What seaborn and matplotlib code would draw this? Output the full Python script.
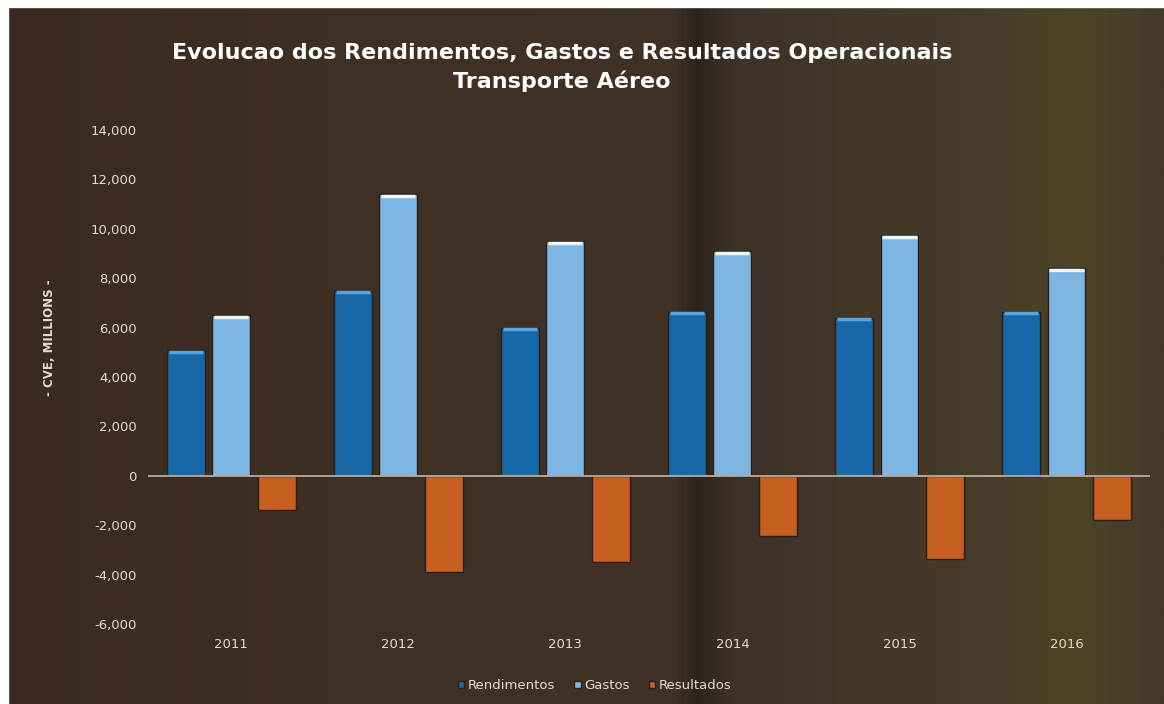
import numpy as np
import pandas as pd
import matplotlib
matplotlib.use("Agg")
import matplotlib.pyplot as plt
from matplotlib.colors import LinearSegmentedColormap
from matplotlib.ticker import FuncFormatter
import seaborn as sns

# Data (CVE, millions)
years = ["2011", "2012", "2013", "2014", "2015", "2016"]
rendimentos = [5100, 7500, 6000, 6650, 6400, 6650]
gastos = [6500, 11400, 9500, 9100, 9750, 8400]
resultados = [-1400, -3900, -3500, -2450, -3350, -1800]
series_names = ["Rendimentos", "Gastos", "Resultados"]

df = pd.DataFrame({
    "Ano": years * 3,
    "Serie": [series_names[0]] * 6 + [series_names[1]] * 6 + [series_names[2]] * 6,
    "Valor": rendimentos + gastos + resultados,
})

palette = {"Rendimentos": "#1768a8", "Gastos": "#7db6e2", "Resultados": "#c65f1f"}
highlight = {"Rendimentos": "#5aa6dc", "Gastos": "#eef6fc", "Resultados": "#d9874e"}
text_col = "#e6dccd"

sns.set_theme(style="dark")
plt.rcParams["font.family"] = ["DejaVu Sans"]

fig = plt.figure(figsize=(11.64, 7.04), dpi=100)
fig.patch.set_facecolor("#3e3025")

# brown backdrop with a darker band and an olive cast to the right
bg = fig.add_axes([0, 0, 1, 1], zorder=-10)
bg_cmap = LinearSegmentedColormap.from_list(
    "wood",
    [(0.0, "#3a2a20"), (0.35, "#3f3025"), (0.58, "#3f3227"), (0.6, "#2c241c"),
     (0.63, "#3e3228"), (0.85, "#473c2a"), (0.93, "#4d4426"), (1.0, "#45392a")])
grad = np.tile(np.linspace(0, 1, 600), (40, 1))
bg.imshow(grad, aspect="auto", cmap=bg_cmap, extent=[0, 1, 0, 1])
bg.set_xlim(0, 1)
bg.set_ylim(0, 1)
bg.axis("off")
# paper edges of the scan
fig.patches.append(plt.Rectangle((0, 0), 0.007, 1, transform=fig.transFigure,
                                 color="white", zorder=5))
fig.patches.append(plt.Rectangle((0, 0.99), 1, 0.01, transform=fig.transFigure,
                                 color="white", zorder=5))

ax = fig.add_axes([0.127, 0.1136, 0.861, 0.7017])
ax.set_facecolor("none")

sns.barplot(data=df, x="Ano", y="Valor", hue="Serie", palette=palette,
            width=0.82, gap=0.17, edgecolor="#2a1f17", linewidth=1,
            saturation=1, ax=ax, legend=True)

# glossy rim on the top of each positive bar
for cont, name in zip(ax.containers, series_names):
    for p in cont.patches:
        x0, w, h = p.get_x(), p.get_width(), p.get_height()
        if h > 0:
            ax.plot([x0 + w * 0.05, x0 + w * 0.95], [p.get_y() + h - 70] * 2,
                    color=highlight[name], lw=2.5, solid_capstyle="butt", zorder=4)

ax.axhline(0, color="#b9ada0", lw=1.3, zorder=3)
ax.set_xlim(-0.5, len(years) - 0.5)
ax.set_ylim(-6000, 14000)
ax.set_yticks(np.arange(-6000, 14001, 2000))
ax.yaxis.set_major_formatter(FuncFormatter(lambda v, p: f"{int(v):,}"))
ax.tick_params(axis="both", colors=text_col, labelsize=9.5, length=0)
ax.tick_params(axis="x", pad=10)
ax.tick_params(axis="y", pad=8)
ax.grid(False)
for s in ax.spines.values():
    s.set_visible(False)
ax.set_xlabel("")
ax.set_ylabel("- CVE, MILLIONS -", color=text_col, fontsize=8.5, fontweight="bold")
ax.yaxis.set_label_coords(-0.092, 0.58)

leg = ax.legend(loc="lower center", bbox_to_anchor=(0.511, 0.0), bbox_transform=fig.transFigure,
                ncol=3, frameon=False, fontsize=9.5, handlelength=0.5, handleheight=0.5,
                handletextpad=0.3, columnspacing=1.4)
for t in leg.get_texts():
    t.set_color(text_col)

fig.text(0.483, 0.925, "Evolucao dos Rendimentos, Gastos e Resultados Operacionais",
         ha="center", va="center", color="white", fontsize=16, fontweight="bold")
fig.text(0.483, 0.884, "Transporte Aéreo", ha="center", va="center",
         color="white", fontsize=16, fontweight="bold")

fig.savefig("out.png", dpi=100, facecolor=fig.get_facecolor())
